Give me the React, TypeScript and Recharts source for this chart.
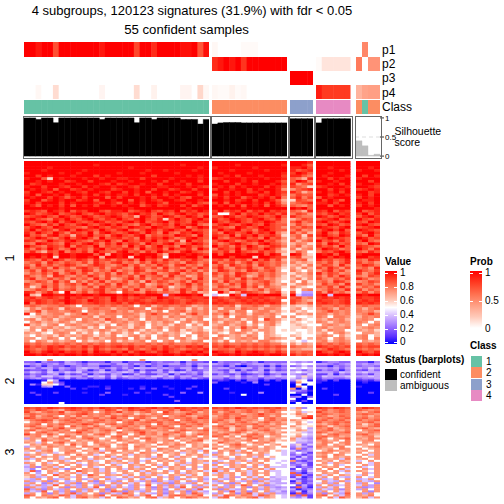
import React from "react";
import { ScatterChart, Scatter, XAxis, YAxis, BarChart, Bar, ReferenceLine } from "recharts";

const title1 = "4 subgroups, 120123 signatures (31.9%) with fdr < 0.05";
const title2 = "55 confident samples";

const p1Values = [
  [1,1,.92,1,1,.72,1,1,1,1,1,1,1,.92,1,1,1,1,1,.75,1,1,.85,1,1,1,1,.95,.95,1,.7,.95],
  [.03,0,0,0,0,.02,.02,.02,0,0,0,0,0],
  [0,0,0,0],
  [0,0,0,0,0,0],
  [0,.5,0,0],
];
const p2Values = [
  new Array(32).fill(0),
  [.85,.92,1,.92,1,.82,1,1,1,1,1,1,1],
  [0,0,0,0],
  [.02,.1,.1,.1,.1,.1],
  [.55,0,.45,.45],
];
const p3Values = [
  new Array(32).fill(0),
  new Array(13).fill(0),
  [1,1,1,1],
  [0,0,0,0,0,0],
  [0,0,0,0],
];
const p4Values = [
  [0,0,.03,0,0,.13,0,0,0,0,0,0,0,.04,0,0,0,0,0,.13,0,0,.05,0,0,0,0,.04,.04,0,.15,.03],
  [.03,.02,.02,.05,.02,.03,0,0,0,0,0,0,0],
  [0,0,0,0],
  [.9,.8,.8,.8,.8,.8],
  [.3,.38,.4,.4],
];
const classValues = [
  new Array(32).fill(1),
  new Array(13).fill(2),
  [3,3,3,3],
  [4,4,4,4,4,4],
  [2,1,2,2],
];
const silhouetteValues = [
  [1,1,.96,1,1,.875,1,1,1,1,1,1,1,.96,1,1,1,1,1,.875,1,1,.96,1,1,1,1,.96,.96,.96,.84,.96],
  [.84,.87,.88,.88,.88,.87,.87,.87,.87,.87,.87,.87,.87],
  [.98,.98,.98,.98],
  [.87,.98,.98,.98,.98,.98],
  [.4,.27,.02,.05],
];

const rowsBlock1 = [
"ffffffff ffffffff ffffffff ffffffff|fffffffffffff|fffe|ffffff|ffff",
"ffffffff ffffefff ffffffff fffeffff|ffffefffffffe|ffec|ffffff|ffff",
"ffffefff ffffffff ffefffff ffffffef|effffffefffff|eefd|ffefff|ffef",
"fffeffff ffefffff fffffeff effffeff|fffefffffefff|ecde|ffffef|effe",
"efffffef feffffff efffefff ffefffff|feffffefffffe|dfec|ffefff|ffff",
"ffdfefff efffdfef ffffffdf ffffefef|ffefdfffefffd|eecb|fefffe|fdfe",
"effc8fef ffeffeff eeffdfff feffffef|defffefffeffe|cb9e|ffdfef|efff",
"ffefeffd effdfffe ffefffef dffeffdf|ffdffefdfffec|cfeb|effeff|ffdf",
"fdefffef fefffedf deffeffd ffefdfff|efffdffeffefd|eacd|ffefdf|effe",
"effdffed ffdfeffe ffedfffe efffefed|fefdfefffdfec|dcb8|defffe|ffed",
"fefefcff defefffd effeffdf fdeffdff|dffeffdfeffea|acde|ffdfef|defe",
"dffedfef fedffedf fdfefcff effdefef|ffdfefdefdfed|ec9b|efefdf|ffde",
"efcffefd ffefdfef eefdffef dfefffdf|cfefefffdefec|bdcc|ffdefe|efdf",
"feffdfec efdfffcf dfffefdf fefdcffe|efdffcefefdfb|cebd|cfefff|dfef",
"dffcefef fdefcffe ffcfefed ffedffef|ffefdefdffec9|8dcb|fdfecf|feef",
"efdfffdf efffedfe cfefdffe cfffefdc|dfcfeffefdfda|bcde|eefdff|efdf",
"fecfefdf cfefdffe feffcefd effdfcef|fefdfcfefcfec|cbac|ffcfef|dfef",
"ffffffef ffffffff ffefffff ffffefff|fffffefffffff|fefc|ffffff|fffe",
"dedcfedf cedffdce efcdefdc edfcedfe|dfcedfcedfded|cb9e|edfced|fcde",
"fecdefcd efdcefde dcefdecf dcefdecd|e77dfcedfdece|bdca|dcefde|dfce",
"cdefdcfe cdfecdef ecd9fecd fecdfecf|cdfecdfedcdfc|ecbb|fecdfe|cefd",
"efdcbedf dcefdced fdcefdce 8dfdcefd|ecdfedcefdceb|9bdc|cdefcd|fdce",
"dcefdfce fdcdfecd cefdfcde fcedcfde|fdcefdcedfecb|cebc|efdcef|dcfe",
"fdcbecfd cefdcefd fdcbefcd ecfdefcb|cefdcefdcfdcc|adba|dcfecd|efdc",
"cefdcfed dcbefdce dcfedcfe dcefbdfe|edcbfecdfedca|cbdc|fedcef|cdef",
"dfcedbef cfedcfdc efcbdfec efdcfcdc|cfdefcdbefdcc|bdab|cefdfc|fedc",
"ecfdcfdb edcfbefd cdfecfdb fcbedfec|dbfecdfcedfb9|dac9|dfcbed|cefd",
"fcdbefcd 9edfcdbe fdcefbdc dcfedbfc|edcfbedfcdec8|bc8d|efdcfe|dbfc",
"cdfecbdf cefdbfcd ecdbfced fdbcefdc|fcbdefcdbfcda|ac9b|cdfedc|fecd",
"edbcfdce fdcbedfc bfdcedfc dbe9fcdb|cefdbcedfcdb9|c9bc|fcdbec|dfcb",
"cbfedcbf dcefdbec fcedbfdc efcbdfec|dbcefdcbefdca|9ba8|dbfecd|cbfe",
"fdcbedcf bedcfbdc dbfcebdf cdbfecdb|fcdbecfdbcedb|ac9a|ecdbfc|edcb",
"dbecfdbc fcdbefcd cedbfcde bfdcebfd|bedcfbedcfdb8|b8ab|cfedbc|fdbe",
"ceb9dcfb dcebfdcb efcdbecf dcbefdcb|dcebfdcbecda9|9ca7|bdcefd|cbec",
"fffefcff efffcf9f effdfffc 9fffefed|fcfffefffcfe8|fea8|fefcff|efff",
"fefdf8ff effef9ff ef8ffefd 7ffeffcf|fffdfff8ffedc|cd99|ffdfef|ffde",
"dcbecfdb cedbecdb dcebfcdb ecbdcecb|cdbecdbfcebd9|abc8|ecdbce|cbed",
"bcdaecbd cbdaecbd ebcadbec dbcaedbc|ebcdacebdcbca|b9a9|cbdace|dbca",
"caebdbce dbacedba cebdacbe cadebcad|bdaecbdaecbc9|9a8b|bdcaeb|cedb",
"ebcdaebc adecbdac dbaecbda ebcadbec|cebadcebadca8|a8b9|dbecad|bcae",
"bdaecbad cbedacbe acbedabc dacebdac|aedbcaedbcda7|b97a|acebda|ecbd",
"acbdbeac ebdacbda ecadbcea bdeacbda|dbcaedbacbca9|8a9b|ebdcab|dace",
"dbac9edb acbecadb cbdaebcd aebc9adb|cadbec9adbca8|a89a|cadbec|badc",
"ceabdbca dbcaebd9 acebdacb dcabdaeb|abdcaebdcab98|9b8a|dbacbd|ecab",
"abdcaebd 8cadbeac bdac9ebd cabdaecb|daebcdabcdb97|a7b8|bcaedb|abdc",
"dbacbdac dbeacbda ecabd9ac bdacebda|bcadbeacbda9a|8ab9|adbcae|dbca",
"c8aebdab cabdaecb dacbdabe c8abdacb|adcbaebd9cba8|b987|cbdaeb|acbd",
"abdcaebc dacbdebc adbeacb9 dabecadb|cbaedcabdacb7|97ab|abdcbe|dacb",
"edaceb7f 9bdaceba 7dcbaedb cbaebd9a|7fb8aedcb9cd8|c755|daebca|bdac",
"f98ffeef feffefff efefefff 6efffef8|677fd6ffefff9|f644|ef6fff|feff",
"decdedcf dedcedcf decdedcf edcdedde|edcdedededcdc|cdab|dedede|edde",
"ededcdef edcfedcf dededcde dedcdedd|dedcdedededd7|dca9|eddcde|dede",
"fbedcdcf edcdedcd ecededed dedcedcd|ededcdedededa|dbac|dedcde|eded",
"bcbabbcb a7bbbcbc bcb7bc9b cbbcb9ab|bcbc8bbcb9bb8|9889|cbbcbc|bcbb",
"8b9bcb8c bb9bcbb9 bbcbb7bc b9bb8b9b|b8bb9cbb9bba7|9a78|bcb9cb|b9bc",
"9bd9bbab cb7bbabc ab9bab9b 7bbc9bab|9bb8bb7abb9a8|a897|abdbab|bab9",
"e7b9abb8 abdab9bb abba8bdb bab8bdab|bad9ab8bbab97|7a9a|bb9bab|abdb",
"789bab9a bbab8bab 7bab8bab 8bab9ab9|a8b7bbab9ab7a|a778|ba7bba|9bab",
"ab8ab8ab a7bab9db a9ba7bab a9a8bab7|ba9ab8ab7dba8|8a87|a9bab9|aba7",
"7ab9a9ba 8aba9a8b ab9ab8a9 ba7ab8ab|a8ba9b7b9ab97|9878|ba8aba|ba7a",
"d9a8ab7a ba9ab8a7 ba8ab7a9 a8ba7a8b|9ab9ab8a7ab87|8987|7aba9a|a7ab",
"7a9ab9a8 9ab8a7ba 9a8ba7ab 8aba89a7|ab7a9dab8a977|8898|ab9aab|9aba",
"8a7b8a9a a89a9ba8 a9ba8a9a 7ab8a9a8|9a8a7ba8aa978|8778|a8baa7|a9a8",
"a9a87aba 7a8a7a8b a8a7a9a8 a9a87aba|a87aba8a7a977|7878|9a7ab9|7aa9",
"97a9a8b9 a9ba8a9b 78ab8a7a b9a7a7ba|7ba9a8ba7a987|9877|aba7a8|ab79",
"aa79ba7a 7ab9b9ab ab7b9b7a a7ab97ab|ba79abab7aba9|7a79|ba7ab9|ab7b",
"a7ba8a9a b7a89a7b 8a9ab7a7 ab7a9ab7|a8b7a9a8bb987|8767|ab8aba|7a9a",
"cbcbbcbc bcbcbcbc cbcbbcbc bcbbbcbc|cbcbbcbcbcbb9|a8a9|cbcbcb|cbcb",
"ecdcedec dcecedcd edecdcdc ecdcedec|dcedcdcdcdcdc|cbba|edcdcd|dcdd",
"dcbcedcb ccdbecbc cbecbcec edcbcdce|bccbdcbcbcbca|aa99|bcedcb|cbcb",
"fdcefefd edfcfedf dfcefdce fdcefefd|fedcfdefedcec|cbcc|fdcefe|fdce",
"ffefefef fefefffe fefefffe ffefefef|effefefffeffe|ecdc|ffefef|efef",
];

const rowsBlock2 = [
"7777a777 77777777 7777a777 77777a77|77777777777777|7777|777777|7777",
"33143325 43133314 41333134 33414332|14333434133333|5454|134433|3314",
"54534535 54355443 55354534 45535355|54345345545456|7677|554345|4545",
"13414331 34344113 34314134 13334143|33141033414134|3464|331434|3443",
"55355354 35655345 35365554 54355364|45534553545344|7676|554535|5465",
"23325143 25413514 23514225 24125234|43251423514233|4535|243414|3253",
"46536546 56345654 56536355 36564536|55365356536555|6765|555365|5655",
"24324514 23514325 41253224 51423425|24324123413424|5436|225143|3425",
"45366456 55365636 46545466 46355346|55646354645654|7585|365556|5565",
"34534235 24424425 23443442 44243532|44245344244343|6464|244334|3445",
"00017500 00000000 00000000 00000000|12102033020201|4871|120200|1213",
"0007a420 00000000 00000000 00000000|30000104000000|1a77|100000|0100",
"04188730 00000000 00000000 00000000|00000000020000|0707|000000|0000",
"00045003 00011010 00001000 10000200|00000000000000|0a70|000000|1000",
"00000000 20100020 00102020 01002000|00200000000000|a060|020000|0000",
"00000000 00000000 00000000 00000000|00000000000000|4431|000000|0000",
"02000200 00100030 00020100 00030040|00010000400000|7220|000000|0020",
"00200000 00000200 01000000 20000000|00000700000000|0070|000200|0000",
"00000000 00000000 00000000 02000000|00000000000000|3403|000000|0000",
"00000000 00000000 00000000 00000000|00000000000000|7007|000000|0000",
"00000000 00000000 00000000 00300000|00000000000000|2020|000000|0000",
"00000070 00000000 00000000 00000000|00000000000000|0700|000000|0000",
];

const rowsBlock3 = [
"dcdcedcd edcdcedc dcedcdec dcedcdcd|dcdcedcdcdcdb|6a47|edcedc|cedc",
"cbdcba9c dcbcabdc 9bdcdcab bcadcbcb|bbcbabcbabcba|8977|bcabcb|cbab",
"da9bcbd9 abcb7acb dab9bca7 db9abc9b|c9bcabcb9bca7|7a68|dbabcb|a9bc",
"bcbabbca bcdbabca 9bb8a9ba cbabdbab|bacbb9abdbab9|8b97|bcbabb|bcba",
"ac9bca7b 9c9bab9c bcabcbab 7abca9bc|9bcabcabcb9b7|79ad|cb9acb|ab9b",
"dcabbcab cabbcabd ab7bca8b cabbcadc|abcadbab7bcaa|77de|abcabc|bcab",
"9bcdc9bc bca9bcab cabd9bca bc7bcbab|bca9caba8bcab|a987|bcabca|cabc",
"7abcb8ab cbabcbab 7bcabcbc abcabcab|cab9bca9bcab9|8a76|cabcbc|abca",
"abc7bacb abdca8bc abcabb7c abbcabca|7abcabbcab9ba|7a87|a9bcab|b8ac",
"bca9cab7 cab9ca8a bcab9cab ca7bcab9|bca9cb8bcaba7|a878|cb8abc|a9bc",
"8acb9bda a9bcaba9 daba8bca bcab9a7b|abc8ab9cab9aa|8975|bac9ab|bca9",
"bc9abcab 7bca9bca 7abcba9a b8acbabc|9ab8bca9bca97|7a96|abca9b|7abc",
"a7bca9ba bdab9ab8 ca9bdab9 abca79ab|b9abca8a9ab9a|8865|cb9abc|a9ba",
"dab9ca7a 9ba8bca7 ab7acab9 ca9b8acb|abc9a8bca9ba7|7976|a8bcaa|bca9",
"9ab7a8bc a7ba9a7b c7ab8a9a b9acab7a|cb8a7bcab79a9|8a65|bcab9a|9ab8",
"5a9b9ab8 a9bca79a b9a7bca9 a7b9a9ba|7ab9a8bca9a97|a654|ca7abc|a9ba",
"9a7ca9ab 7a9ab9a7 ba9a7ba9 ab7a9bc8|a9ba9ab7a9b89|9665|ab9a7b|9ab7",
"a96a7bc9 a9a7ba9a 79ba9ab7 a9a7ba97|8ca9a79bab977|7554|9ba7ab|7a9a",
"7a9ba9a7 c9a79ba7 ab79a97b a9ba7a9a|a79bca79a79a7|5836|ab7a9b|a97a",
"59a8ba9a a7ba9ab7 9a7ba9a7 7ba97a9b|9a7aba9a7a97a|4653|ba9ab7|79ab",
"a7a9a79a 9a79c7a9 ab7a9a7b a9a7a9a7|b7a9a7ba9a977|3a35|a9a7ba|a79a",
"9a6ab79a b7a9a6ab 7a9a7a6a 9a7a9a6b|7a9b6a7a9a796|6345|79ba9a|9a7a",
"67a9a67b a97a9b7a a9a7ba97 a9a69a7a|5a7a9ab7a9776|4752|aba7a9|a79a",
"a9a67a9a 7b9a67a9 7a6a9a7b 79a7a9a6|a97a67a9a6776|3524|9a7ba7|7a6a",
"5a7a9a67 a9a7a9b6 a97a9a6a 7a6a97a9|6a97a9a6a7977|5263|ab7a9a|a79a",
"a6a97a69 a7a6a97a 6a9a76a9 a7a97a67|79a6a97a9a677|2643|7a9a6b|9a7a",
"67a7a9a6 7a9a67a9 a79a6a7a 9a6a7a9a|a67a9a6a7a776|a324|a9a7a9|67a7",
"a97a67a9 a67a97a6 9a6a7a97 a79a6a96|5a9a67a9a7767|3542|7a6a9a|a76a",
"6a7a9a7a 7a6a9a7a 67a9a7a6 a7a69a7a|a76a9a7a6a776|4362|a97a67|7a6a",
"5a49a6a7 9a7a67a9 a7a69a7a 6a9a7a6a|6a7a9a6a7a666|6243|7a9a7a|a67a",
"647a9a64 a7a9a6a7 a6a9a7a6 7a9a6a7a|a9a6a7a9a6a77|2735|a7b7a6|7a6a",
"6c47a97a 7ca9a6a7 9a7a6a97 a6a7a9a6|c6a7a96a7a667|4526|9a7a6a|a97a",
"a757a6a9 a6a7a9a6 7a97a6a9 a7a6a97a|6a9a7a6a9a767|c314|7a9a76|7a6a",
"9a6a7c9a 7a6ca7a9 a6a7a9a6 7a9a6a7a|9a6a7a6a7a767|3c42|a6a7a9|6a7a",
"8a56a7a9 6a7a9a56 7a6a5a7a 6a57a9a6|7a6a57a6a7566|2613|6a7a65|a76a",
"65a7a56a 7a56a7a6 56a7a65a 7a5a67a5|a65a7a6a5a656|6324|a56a7a|56a7",
"a56a4a75 6a7a4a65 a7a65a4a 65a7a5a6|5a7a65a4a6557|1523|7a65a5|a65a",
"5a74a6a5 a4a65a7a 5a6a7a65 a4a65a7a|65a4a7a56a655|3a24|6a5a7a|5a74",
"a6a56c7a 65a7a4a6 a75a6c7a 5a6a75a6|a75a6ca7a4567|7252|a7a56a|6a5a",
"4a65a7a4 a5a6c7a5 a65a7a4a 6a5c7a5a|6a5a7a4a6a545|2c41|5a6a7a|a45a",
"c5a4a65a 7a5a6a4a 7a5a6a5a 47a6a5c7|a4a65a7a5a656|5134|a65a4a|5a7a",
"a65c7a5a 4a6a7a5c a4a65a7a 5a6a4a65|7a5c6a4a7a564|3615|5a7a6a|7a4a",
"5a7a4a6a c5a7a4a6 5ca7a65a 4a7a5ca6|5a7a4ac6a5a55|1c24|a4a65c|a5a7",
"cb7ba9cb 6ba9bc7b a9b6ac7b 6bcb9ac7|a6cb9ba6cb976|b3c2|bc7a6b|a9b7",
"b7a9bc7a 6bc9a6b7 cb9a7bc6 9b7acb9a|6bc7a9bc6a976|5462|a7b6ca|9b6a",
];

const levelValues = [0, .07, .13, .2, .27, .33, .4, .5, .58, .66, .73, .78, .84, .89, .94, 1];

const heatColors = ["#0000ff", "#5a30ff", "#8c5fff", "#b691ff", "#dbc3ff", "#ffffff", "#ffc9b8", "#ff9f84", "#ff6f4e", "#ff3a21", "#ff0000"];
const hexToRgb = (h: string) => [parseInt(h.slice(1, 3), 16), parseInt(h.slice(3, 5), 16), parseInt(h.slice(5, 7), 16)];
const valueColor = (v: number) => {
  const t = Math.max(0, Math.min(1, v)) * (heatColors.length - 1);
  const i = Math.min(heatColors.length - 2, Math.floor(t));
  const a = hexToRgb(heatColors[i]);
  const b = hexToRgb(heatColors[i + 1]);
  const f = t - i;
  return `rgb(${a.map((c, k) => Math.round(c + (b[k] - c) * f)).join(",")})`;
};
const probColor = (v: number) => valueColor(0.5 + v / 2);
const classPalette: Record<number, string> = { 1: "#66C2A5", 2: "#FC8D62", 3: "#8DA0CB", 4: "#E78AC3" };
const classColor = (v: number) => classPalette[v];

const colLayout = [
  { left: 24, width: 185 },
  { left: 212, width: 75 },
  { left: 290, width: 23 },
  { left: 316, width: 34.5 },
  { left: 356, width: 24 },
];

type Cell = { x: number; y: number; v: number };
const toCells = (matrix: number[][]): Cell[] =>
  matrix.flatMap((row, r) => row.map((v, c) => ({ x: c + 0.5, y: r + 0.5, v })));

function HeatPanel({ matrix, left, top, width, height, color }: { matrix: number[][]; left: number; top: number; width: number; height: number; color: (v: number) => string }) {
  const nRows = matrix.length;
  const nCols = matrix[0].length;
  const w = width / nCols;
  const h = height / nRows;
  const shape = (p: any) => (
    <rect x={p.cx - w / 2} y={p.cy - h / 2} width={p.cx + w / 2 + 0.5 > width ? w : w + 0.5} height={p.cy + h / 2 + 0.5 > height ? h : h + 0.5} fill={color(p.payload.v)} />
  );
  return (
    <div style={{ position: "absolute", left, top, width, height }}>
      <ScatterChart width={width} height={height} margin={{ top: 0, right: 0, bottom: 0, left: 0 }}>
        <XAxis type="number" dataKey="x" domain={[0, nCols]} hide />
        <YAxis type="number" dataKey="y" domain={[0, nRows]} reversed hide />
        <Scatter data={toCells(matrix)} shape={shape} isAnimationActive={false} />
      </ScatterChart>
    </div>
  );
}

const parseBlock = (rows: string[], group: number, nCols: number): number[][] =>
  rows.map((s) => {
    const part = s.replace(/ /g, "").split("|")[group];
    const out: number[] = [];
    for (let i = 0; i < nCols; i++) out.push(levelValues[parseInt(part[Math.min(i, part.length - 1)], 16)]);
    return out;
  });

const groupSizes = [32, 13, 4, 6, 4];
const annotationRows = [
  { values: p1Values, top: 42, height: 15, color: probColor },
  { values: p2Values, top: 57, height: 14, color: probColor },
  { values: p3Values, top: 71, height: 14, color: probColor },
  { values: p4Values, top: 85, height: 14, color: probColor },
  { values: classValues, top: 100, height: 14, color: classColor },
];
const annotationLabels = ["p1", "p2", "p3", "p4", "Class"];
const annotationLabelY = [50, 64, 78, 93, 107];
const blocks = [
  { rows: rowsBlock1, top: 161, height: 195 },
  { rows: rowsBlock2, top: 359, height: 45 },
  { rows: rowsBlock3, top: 407, height: 91.5 },
];

const blockTitles = ["1", "2", "3"];
const blockTitleY = [258, 381, 452];
const valueTicks = ["1", "0.8", "0.6", "0.4", "0.2", "0"];
const valueTickY = [273, 287, 301, 315, 329, 342];
const probTicks = ["1", "0.5", "0"];
const probTickY = [273, 301, 329];
const classKeys = [1, 2, 3, 4];
const statusKeys = ["confident", "ambiguous"];
const statusColors = ["#000000", "#BEBEBE"];

const font = "'Liberation Sans', Arial, sans-serif";
function Label({ x, y, size = 10, bold, children }: { x: number; y: number; size?: number; bold?: boolean; children: React.ReactNode }) {
  return (
    <div style={{ position: "absolute", left: x, top: y, transform: "translateY(-50%)", fontSize: size, fontWeight: bold ? 700 : 400, lineHeight: 1, whiteSpace: "nowrap", color: "#000" }}>
      {children}
    </div>
  );
}

function SilhouettePanel({ values, left, width, last }: { values: number[]; left: number; width: number; last: boolean }) {
  const data = values.map((s, i) => ({ i, s }));
  const axisW = last ? 30 : 0;
  const fill = last ? "#BEBEBE" : "#000000";
  return (
    <>
      <div style={{ position: "absolute", left, top: 110, width: width + axisW, height: 54 }}>
        <BarChart width={width + axisW} height={54} data={data} barCategoryGap={0} margin={{ top: 6, right: 0, bottom: 6, left: 0 }}>
          <XAxis dataKey="i" hide />
          {last ? (
            <YAxis orientation="right" width={axisW} domain={[-0.05, 1.05]} ticks={[0, 0.5, 1]} interval={0} tickSize={4} tickMargin={1} axisLine={false} tick={{ fontSize: 8, fill: "#000", textAnchor: "start" }} tickLine={{ stroke: "#333" }} />
          ) : (
            <YAxis domain={[-0.05, 1.05]} hide />
          )}
          {last ? <ReferenceLine y={0.5} stroke="#dddddd" strokeDasharray="4 3" /> : null}
          <Bar dataKey="s" fill={fill} stroke={fill} strokeWidth={0.4} isAnimationActive={false} />
        </BarChart>
      </div>
      <div style={{ position: "absolute", left: left - 1, top: 115.5, width: width + 1, height: 41, border: "1px solid #666", pointerEvents: "none" }} />
    </>
  );
}

export default function App() {
  return (
    <div style={{ position: "absolute", left: 0, top: 0, width: 504, height: 504, background: "#fff", fontFamily: font, overflow: "hidden" }}>
      <div style={{ position: "absolute", left: 0, width: 384, top: 3, textAlign: "center", fontSize: 13, lineHeight: "16px" }}>{title1}</div>
      <div style={{ position: "absolute", left: 0, width: 373, top: 22, textAlign: "center", fontSize: 13.2, lineHeight: "16px" }}>{title2}</div>

      {annotationRows.map((a, ai) =>
        colLayout.map((c, g) => (
          <HeatPanel key={`${ai}-${g}`} matrix={[a.values[g]]} left={c.left} top={a.top} width={c.width} height={a.height} color={a.color} />
        ))
      )}
      {annotationLabels.map((t, i) => (
        <Label key={t} x={382} y={annotationLabelY[i]} size={12}>{t}</Label>
      ))}

      {colLayout.map((c, g) => (
        <SilhouettePanel key={g} values={silhouetteValues[g]} left={c.left} width={c.width} last={g === 4} />
      ))}
      <Label x={394.5} y={131} size={10.5}>Silhouette</Label>
      <Label x={394.5} y={142} size={10.5}>score</Label>

      {blocks.map((b, bi) =>
        colLayout.map((c, g) => (
          <HeatPanel key={`${bi}-${g}`} matrix={parseBlock(b.rows, g, groupSizes[g])} left={c.left} top={b.top} width={c.width} height={b.height} color={valueColor} />
        ))
      )}
      {blockTitles.map((t, i) => (
        <div key={t} style={{ position: "absolute", left: 3, top: blockTitleY[i] - 7, width: 14, height: 14, lineHeight: "14px", textAlign: "center", fontSize: 12.5, transform: "rotate(-90deg)" }}>{t}</div>
      ))}

      <Label x={385} y={262} size={10} bold>Value</Label>
      <div style={{ position: "absolute", left: 385, top: 271, width: 12, height: 73, background: `linear-gradient(to top, ${heatColors.join(",")})` }} />
      {valueTicks.map((t, i) => (
        <React.Fragment key={t}>
          <div style={{ position: "absolute", left: 385, top: valueTickY[i] - 0.5, width: 3, height: 1, background: "#fff" }} />
          <div style={{ position: "absolute", left: 394, top: valueTickY[i] - 0.5, width: 3, height: 1, background: "#fff" }} />
          <Label x={400} y={valueTickY[i]} size={10}>{t}</Label>
        </React.Fragment>
      ))}

      <Label x={470} y={262} size={10} bold>Prob</Label>
      <div style={{ position: "absolute", left: 470, top: 271, width: 12, height: 57, background: "linear-gradient(to top, #ffffff, #ffc9b8, #ff9f84, #ff6f4e, #ff3a21, #ff0000)" }} />
      {probTicks.map((t, i) => (
        <React.Fragment key={t}>
          <div style={{ position: "absolute", left: 470, top: probTickY[i] - 0.5, width: 3, height: 1, background: "#fff" }} />
          <div style={{ position: "absolute", left: 479, top: probTickY[i] - 0.5, width: 3, height: 1, background: "#fff" }} />
          <Label x={485} y={probTickY[i]} size={10}>{t}</Label>
        </React.Fragment>
      ))}

      <Label x={470} y={346} size={10} bold>Class</Label>
      {classKeys.map((k, i) => (
        <React.Fragment key={k}>
          <div style={{ position: "absolute", left: 470.5, top: 356 + i * 11.3, width: 11.5, height: 11, background: classPalette[k] }} />
          <Label x={486} y={362 + i * 11.3} size={10}>{k}</Label>
        </React.Fragment>
      ))}

      <Label x={385} y={360} size={10} bold>Status (barplots)</Label>
      {statusKeys.map((k, i) => (
        <React.Fragment key={k}>
          <div style={{ position: "absolute", left: 385, top: 369 + i * 11.3, width: 11.5, height: 11, background: statusColors[i] }} />
          <Label x={400} y={374.5 + i * 11} size={10}>{k}</Label>
        </React.Fragment>
      ))}
    </div>
  );
}
